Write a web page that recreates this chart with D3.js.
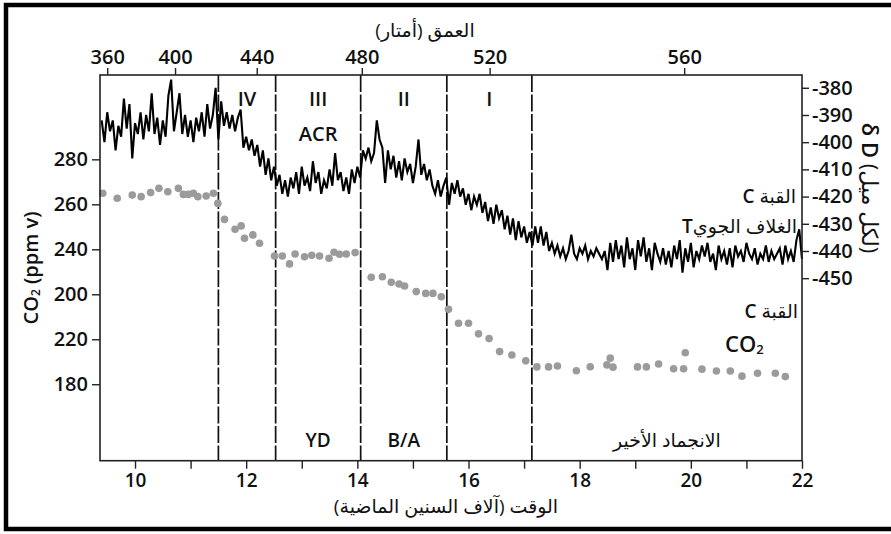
<!DOCTYPE html>
<html>
<head>
<meta charset="utf-8">
<script src="https://cdn.jsdelivr.net/npm/d3@7"></script>
<style>
  html, body { margin: 0; padding: 0; background: #fff; }
  svg { display: block; }
  text { font-family: "Open Sans", "DejaVu Sans", sans-serif; fill: #111; }
</style>
</head>
<body>
<svg id="chart" width="891" height="534"></svg>
<script>
// ---------------- DATA ----------------
// δD record (age in kyr BP, δD per mil)
const deltaD = [
[9.40,-392],[9.45,-400],[9.50,-389],[9.55,-396],[9.60,-392],[9.65,-403],[9.70,-394],[9.75,-398],[9.80,-384],[9.85,-395],
[9.90,-386],[9.95,-406],[10.00,-393],[10.05,-397],[10.10,-389],[10.15,-399],[10.20,-390],[10.25,-396],[10.30,-382],[10.35,-397],
[10.40,-391],[10.45,-401],[10.50,-392],[10.55,-398],[10.60,-383],[10.65,-377],[10.70,-396],[10.75,-389],[10.80,-382],[10.85,-397],
[10.90,-390],[10.95,-398],[11.00,-392],[11.05,-400],[11.10,-391],[11.15,-396],[11.20,-389],[11.25,-398],[11.30,-386],[11.35,-395],
[11.40,-390],[11.45,-380],[11.50,-399],
[11.55,-385],[11.60,-394],[11.65,-389],[11.70,-395],[11.75,-390],[11.80,-396],[11.85,-391],[11.90,-388],[11.95,-402],[12.00,-398],
[12.05,-403],[12.10,-399],[12.15,-405],[12.20,-401],[12.25,-409],[12.30,-403],[12.35,-412],[12.40,-406],[12.45,-414],[12.50,-409],
[12.55,-416],[12.60,-412],[12.65,-419],[12.70,-414],[12.75,-420],[12.80,-413],[12.85,-417],[12.90,-411],[12.95,-419],[13.00,-409],
[13.05,-416],[13.10,-413],[13.15,-418],[13.20,-407],[13.25,-415],[13.30,-411],[13.35,-419],[13.40,-414],[13.45,-417],[13.50,-410],
[13.55,-416],[13.60,-404],[13.65,-414],[13.70,-411],[13.75,-418],[13.80,-413],[13.85,-419],[13.90,-410],[13.95,-415],[14.00,-409],
[14.05,-413],
[14.10,-403],[14.15,-406],[14.20,-402],[14.25,-407],[14.30,-404],[14.35,-392],[14.40,-399],[14.45,-402],[14.50,-415],[14.55,-403],
[14.60,-410],[14.65,-405],[14.70,-413],[14.75,-407],[14.80,-414],[14.85,-406],[14.90,-411],[14.95,-408],[15.00,-415],[15.05,-409],
[15.10,-399],[15.15,-412],[15.20,-408],[15.25,-414],[15.30,-410],[15.35,-416],[15.40,-419],[15.45,-414],[15.50,-420],[15.55,-416],
[15.60,-413],
[15.65,-423],[15.70,-415],[15.75,-419],[15.80,-414],[15.85,-420],[15.90,-417],[15.95,-423],[16.00,-419],[16.05,-425],[16.10,-420],
[16.15,-423],[16.20,-419],[16.25,-426],[16.30,-422],[16.35,-429],[16.40,-424],[16.45,-430],[16.50,-423],[16.55,-428],[16.60,-425],
[16.65,-432],[16.70,-427],[16.75,-434],[16.80,-428],[16.85,-436],[16.90,-429],[16.95,-435],[17.00,-431],[17.05,-437],[17.10,-433],
[17.15,-438],
[17.20,-431],[17.25,-437],[17.30,-431],[17.35,-438],[17.40,-433],[17.45,-440],[17.50,-437],[17.55,-441],[17.60,-438],[17.65,-442],
[17.70,-439],[17.75,-443],[17.80,-440],[17.85,-434],[17.90,-441],[17.95,-443],[18.00,-439],[18.05,-441],[18.10,-438],[18.15,-443],
[18.20,-440],[18.25,-442],[18.30,-439],[18.35,-441],[18.40,-443],[18.45,-440],[18.50,-447],[18.55,-437],[18.60,-444],[18.65,-436],
[18.70,-443],[18.75,-438],[18.80,-446],[18.85,-435],[18.90,-443],[18.95,-439],[19.00,-447],[19.05,-436],[19.10,-442],[19.15,-435],
[19.20,-444],[19.25,-439],[19.30,-447],[19.35,-437],[19.40,-441],[19.45,-444],[19.50,-439],[19.55,-445],[19.60,-440],[19.65,-446],
[19.70,-438],[19.75,-443],[19.80,-436],[19.85,-448],[19.90,-439],[19.95,-444],[20.00,-437],[20.05,-446],[20.10,-440],[20.15,-443],
[20.20,-438],[20.25,-442],[20.30,-437],[20.35,-444],[20.40,-441],[20.45,-447],[20.50,-438],[20.55,-443],[20.60,-440],[20.65,-445],
[20.70,-439],[20.75,-446],[20.80,-438],[20.85,-442],[20.90,-440],[20.95,-444],[21.00,-437],[21.05,-441],[21.10,-443],[21.15,-439],
[21.20,-445],[21.25,-441],[21.30,-443],[21.35,-438],[21.40,-444],[21.45,-440],[21.50,-443],[21.55,-441],[21.60,-439],[21.65,-445],
[21.70,-438],[21.75,-443],[21.80,-440],[21.85,-444],[21.90,-436],[21.95,-432],[22.00,-443]
];

// CO2 samples (age in kyr BP, ppmv on the left axis scale)
const co2Ages = [9.42,9.68,9.95,10.11,10.28,10.43,10.59,10.78,10.87,10.96,11.05,11.13,11.28,11.41,11.49,11.61,11.80,11.91,11.97,12.12,12.24,
  12.51,12.65,12.78,12.88,13.05,13.18,13.32,13.49,13.58,13.68,13.80,13.96,
  14.25,14.45,14.61,14.75,14.85,15.06,15.23,15.36,15.51,15.64,15.82,16.00,16.18,16.37,16.56,16.78,17.03,
  17.23,17.44,17.60,17.94,18.19,18.49,18.55,18.60,19.04,19.20,19.42,19.69,19.87,19.90,20.20,20.46,20.71,20.92,21.20,21.52,21.70];
const co2Values = [264.9,262.7,264.1,263.4,265.2,267.1,265.6,267.1,264.4,264.4,264.9,263.4,263.7,264.9,260.4,253.3,248.9,250.4,244.9,246.4,242.7,
  237.0,237.0,233.5,237.9,236.7,237.3,237.0,236.0,238.7,237.8,237.9,238.5,
  227.6,227.8,225.3,224.6,223.7,221.2,220.4,220.4,218.9,213.3,207.1,207.1,202.4,200.3,194.5,193.0,190.4,
  187.7,187.7,188.1,186.0,187.8,188.6,191.6,187.6,187.7,187.7,189.0,186.9,186.9,194.0,186.7,185.9,185.9,183.6,184.9,184.9,183.4];

// Period boundaries (kyr BP) and labels
const boundaries = [11.50, 12.53, 14.06, 15.61, 17.14];
const topBandLabels = [
  {from: 11.50, to: 12.53, text: "IV"},
  {from: 12.53, to: 14.06, text: "III"},
  {from: 14.06, to: 15.61, text: "II"},
  {from: 15.61, to: 17.14, text: "I"}
];
const bottomBandLabels = [
  {from: 12.53, to: 14.06, text: "YD"},
  {from: 14.06, to: 15.61, text: "B/A"}
];
const lgmBand = {from: 17.14, to: 22.00, text: "الانجماد الأخير"};

// Axes ticks
const ageTicks = [10,11,12,13,14,15,16,17,18,19,20,21,22];
const depthTickAges = [9.50, 10.72, 12.19, 14.08, 16.38, 19.88];
const depthTickLabels = ["360","400","440","480","520","560"];
const co2TickValues = [280,260,240,220,200,180];
const co2TickLabels = ["280","260","240","200","220","180"];
const dDTickValues = [-380,-390,-400,-410,-420,-430,-440,-450];

// ---------------- LAYOUT ----------------
const W = 891, H = 534;
const plot = {left: 100, right: 802, top: 75, bottom: 460.7};
const latinFont = "'Open Sans', 'DejaVu Sans', sans-serif";
const latinWeight = 600;

const svg = d3.select("#chart");

const x = d3.scaleLinear().domain([9.37, 22]).range([plot.left, plot.right]);
const yCO2 = d3.scaleLinear().domain([146, 317.5]).range([plot.bottom, plot.top]);
const yDD = d3.scaleLinear().domain([-517.1, -375.3]).range([plot.bottom, plot.top]);

// outer border (left, top, bottom visible; right cut off)
svg.append("rect")
  .attr("x", 6).attr("y", 5).attr("width", W + 20).attr("height", 524)
  .attr("fill", "none").attr("stroke", "#000").attr("stroke-width", 4.5);

// dashed boundaries
svg.append("g").selectAll("line").data(boundaries).join("line")
  .attr("x1", d => x(d)).attr("x2", d => x(d))
  .attr("y1", plot.top).attr("y2", plot.bottom)
  .attr("stroke", "#111").attr("stroke-width", 1.7)
  .attr("stroke-dasharray", "17,2.5");

// CO2 dots
svg.append("g").selectAll("circle").data(co2Ages.map((a, i) => [a, co2Values[i]])).join("circle")
  .attr("cx", d => x(d[0])).attr("cy", d => yCO2(d[1])).attr("r", 3.8)
  .attr("fill", "#9b9b9b");

// δD line
svg.append("path").datum(deltaD)
  .attr("fill", "none").attr("stroke", "#000").attr("stroke-width", 2.1)
  .attr("d", d3.line().x(d => x(d[0])).y(d => yDD(d[1])));

// plot frame
svg.append("rect")
  .attr("x", plot.left).attr("y", plot.top)
  .attr("width", plot.right - plot.left).attr("height", plot.bottom - plot.top)
  .attr("fill", "none").attr("stroke", "#222").attr("stroke-width", 1.6);

function styleAxis(g, size) {
  g.select(".domain").remove();
  g.selectAll(".tick line").attr("stroke", "#222").attr("stroke-width", 1.4);
  g.selectAll(".tick text").attr("font-family", latinFont).attr("font-weight", latinWeight)
    .attr("font-size", size).attr("fill", "#111");
}

// bottom axis
svg.append("g").attr("transform", `translate(0,${plot.bottom})`)
  .call(d3.axisBottom(x).tickValues(ageTicks).tickSize(8).tickPadding(5)
    .tickFormat(d => d % 2 === 0 ? String(d) : ""))
  .call(g => styleAxis(g, 19));

// top axis (depth)
svg.append("g").attr("transform", `translate(0,${plot.top})`)
  .call(d3.axisTop(x).tickValues(depthTickAges).tickSize(7).tickPadding(4)
    .tickFormat((d, i) => depthTickLabels[i]))
  .call(g => styleAxis(g, 20));

// left axis CO2
svg.append("g").attr("transform", `translate(${plot.left},0)`)
  .call(d3.axisLeft(yCO2).tickValues(co2TickValues).tickSize(8).tickPadding(4)
    .tickFormat((d, i) => co2TickLabels[i]))
  .call(g => styleAxis(g, 20));

// right axis δD
svg.append("g").attr("transform", `translate(${plot.right},0)`)
  .call(d3.axisRight(yDD).tickValues(dDTickValues).tickSize(7).tickPadding(3)
    .tickFormat(d => String(d)))
  .call(g => styleAxis(g, 20));

// band labels
const bandY = 98, accrY = 133, bottomLabY = 440;
svg.append("g").selectAll("text").data(topBandLabels).join("text")
  .attr("x", d => x((d.from + d.to) / 2)).attr("y", bandY)
  .attr("text-anchor", "middle").attr("dominant-baseline", "central")
  .attr("font-weight", latinWeight).attr("font-size", 20).text(d => d.text);

svg.append("text").attr("x", x((12.53 + 14.06) / 2)).attr("y", accrY)
  .attr("text-anchor", "middle").attr("dominant-baseline", "central")
  .attr("font-weight", latinWeight).attr("font-size", 20).text("ACR");

svg.append("g").selectAll("text").data(bottomBandLabels).join("text")
  .attr("x", d => x((d.from + d.to) / 2)).attr("y", bottomLabY)
  .attr("text-anchor", "middle").attr("dominant-baseline", "central")
  .attr("font-weight", latinWeight).attr("font-size", 19).text(d => d.text);

svg.append("text").attr("x", x((lgmBand.from + lgmBand.to) / 2)).attr("y", bottomLabY)
  .attr("text-anchor", "middle").attr("dominant-baseline", "central")
  .attr("font-size", 19).text(lgmBand.text);

// series labels (Latin letter semibold, Arabic regular)
function mixedLabel(xp, yp, parts) {
  const t = svg.append("text").attr("x", xp).attr("y", yp).attr("text-anchor", "end")
    .attr("dominant-baseline", "central").attr("font-size", 19);
  parts.forEach(p => t.append("tspan").attr("font-weight", p[1]).text(p[0]));
}
mixedLabel(796, 196, [["C ", latinWeight], ["القبة", 400]]);
mixedLabel(797, 226, [["T", latinWeight], ["الغلاف الجوي", 400]]);
mixedLabel(798, 311, [["C ", latinWeight], ["القبة", 400]]);

const co2Lab = svg.append("text").attr("x", 725).attr("y", 343)
  .attr("dominant-baseline", "central").attr("font-weight", latinWeight).attr("font-size", 22);
co2Lab.append("tspan").text("CO");
co2Lab.append("tspan").attr("font-size", 13).attr("dy", 6).text("2");

// axis titles
svg.append("text").attr("x", 425).attr("y", 30).attr("text-anchor", "middle")
  .attr("dominant-baseline", "central").attr("font-size", 19)
  .text("\u200Fالعمق (أمتار)\u200F");
svg.append("text").attr("x", 446).attr("y", 506).attr("text-anchor", "middle")
  .attr("dominant-baseline", "central").attr("font-size", 19)
  .text("\u200Fالوقت (آلاف السنين الماضية)\u200F");

const leftTitle = svg.append("text")
  .attr("transform", "translate(30,268) rotate(-90)")
  .attr("text-anchor", "middle").attr("dominant-baseline", "central")
  .attr("font-weight", latinWeight).attr("font-size", 20);
leftTitle.append("tspan").text("CO");
leftTitle.append("tspan").attr("font-size", 12).attr("dy", 5).text("2");
leftTitle.append("tspan").attr("dy", -5).text(" (ppm v)");

const rightTitle = svg.append("text")
  .attr("transform", "translate(871,188) rotate(90)")
  .attr("text-anchor", "middle").attr("dominant-baseline", "central").attr("font-size", 22);
rightTitle.append("tspan").attr("font-weight", latinWeight).text("δ D ");
rightTitle.append("tspan").attr("font-weight", 400).text("(لكل ميل)");
</script>
</body>
</html>
